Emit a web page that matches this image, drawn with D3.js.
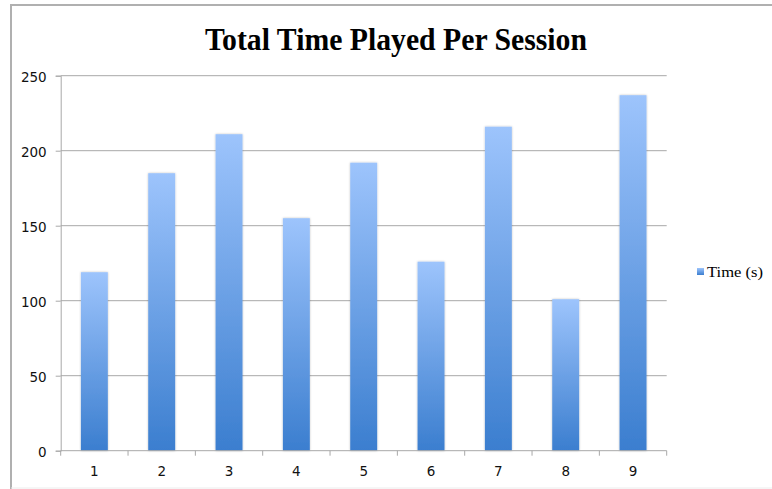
<!DOCTYPE html>
<html>
<head>
<meta charset="utf-8">
<script src="https://cdn.jsdelivr.net/npm/d3@7"></script>
<style>
  html, body { margin: 0; padding: 0; background: #fff; }
  svg { display: block; }
</style>
</head>
<body>
<div id="chart"></div>
<script>
// Session numbers and total seconds played in each
const sessions = ["1", "2", "3", "4", "5", "6", "7", "8", "9"];
const timeSeconds = [119, 185, 211, 155, 192, 126, 216, 101, 237];
const yTicks = [0, 50, 100, 150, 200, 250];
const seriesName = "Time (s)";
const chartTitle = "Total Time Played Per Session";

const W = 772, H = 489;
const margin = { left: 60.7, right: 772 - 666.7, top: 75.7, bottom: 489 - 450.7 };

const svg = d3.select("#chart").append("svg")
  .attr("width", W).attr("height", H);

const defs = svg.append("defs");
const grad = defs.append("linearGradient")
  .attr("id", "barFill")
  .attr("x1", 0).attr("y1", 0).attr("x2", 0).attr("y2", 1);
grad.append("stop").attr("offset", "0%").attr("stop-color", "#9dc4fc");
grad.append("stop").attr("offset", "100%").attr("stop-color", "#3b7ecf");

const shadow = defs.append("filter").attr("id", "barShadow")
  .attr("x", "-20%").attr("y", "-5%").attr("width", "140%").attr("height", "110%");
shadow.append("feGaussianBlur").attr("in", "SourceAlpha").attr("stdDeviation", 1).attr("result", "b");
shadow.append("feComponentTransfer").attr("in", "b").attr("result", "s")
  .append("feFuncA").attr("type", "linear").attr("slope", 0.25);
const merge = shadow.append("feMerge");
merge.append("feMergeNode").attr("in", "s");
merge.append("feMergeNode").attr("in", "SourceGraphic");

// Chart frame
svg.append("path")
  .attr("d", `M11,${H} L11,5 L${W},5`)
  .attr("fill", "none").attr("stroke", "#b0b0b0").attr("stroke-width", 2);
svg.append("line")
  .attr("x1", 11).attr("x2", W).attr("y1", 488).attr("y2", 488)
  .attr("stroke", "#ececec").attr("stroke-width", 1);

const x = d3.scaleBand()
  .domain(sessions)
  .range([margin.left, W - margin.right])
  .paddingInner(0.6)
  .paddingOuter(0.3);

const y = d3.scaleLinear()
  .domain([0, 250])
  .range([H - margin.bottom, margin.top]);

// Gridlines
svg.append("g")
  .selectAll("line")
  .data(yTicks.filter(d => d > 0))
  .join("line")
  .attr("x1", margin.left).attr("x2", W - margin.right)
  .attr("y1", d => y(d)).attr("y2", d => y(d))
  .attr("stroke", "#a8a8a8").attr("stroke-width", 1);

// Bars
svg.append("g")
  .selectAll("rect")
  .data(sessions.map((s, i) => ({ s, v: timeSeconds[i] })))
  .join("rect")
  .attr("x", d => x(d.s))
  .attr("y", d => y(d.v))
  .attr("width", x.bandwidth())
  .attr("height", d => y(0) - y(d.v))
  .attr("fill", "url(#barFill)")
  .attr("filter", "url(#barShadow)");

// Y axis
const yAxis = svg.append("g")
  .attr("transform", `translate(${margin.left},0)`)
  .call(d3.axisLeft(y).tickValues(yTicks).tickSize(5).tickPadding(9));
yAxis.select(".domain").attr("stroke", "#a8a8a8");
yAxis.selectAll(".tick line").attr("stroke", "#a8a8a8");
yAxis.selectAll("text")
  .attr("fill", "#111")
  .attr("dy", "0.45em")
  .style("font-family", "'DejaVu Sans', sans-serif")
  .style("font-size", "13.5px");

// X axis with ticks at band boundaries
const xAxisG = svg.append("g")
  .attr("transform", `translate(0,${y(0)})`);
xAxisG.append("line")
  .attr("x1", margin.left).attr("x2", W - margin.right)
  .attr("stroke", "#a8a8a8");
const bounds = d3.range(sessions.length + 1).map(i => x.range()[0] + i * (x.range()[1] - x.range()[0]) / sessions.length);
xAxisG.selectAll(".bt")
  .data(bounds)
  .join("line")
  .attr("class", "bt")
  .attr("x1", d => d).attr("x2", d => d)
  .attr("y1", 0).attr("y2", 5)
  .attr("stroke", "#a8a8a8");
xAxisG.selectAll("text")
  .data(sessions)
  .join("text")
  .attr("x", d => x(d) + x.bandwidth() / 2)
  .attr("y", 25)
  .attr("text-anchor", "middle")
  .attr("fill", "#111")
  .style("font-family", "'DejaVu Sans', sans-serif")
  .style("font-size", "13.5px")
  .text(d => d);

// Title
svg.append("text")
  .attr("x", 396)
  .attr("y", 50)
  .attr("text-anchor", "middle")
  .attr("textLength", 382)
  .attr("lengthAdjust", "spacingAndGlyphs")
  .style("font-family", "'Liberation Serif', 'DejaVu Serif', serif")
  .style("font-weight", "bold")
  .style("font-size", "31px")
  .attr("fill", "#000")
  .text(chartTitle);

// Legend
const lg = svg.append("g").attr("transform", "translate(697,268)");
lg.append("rect")
  .attr("width", 7).attr("height", 7)
  .attr("fill", "url(#barFill)");
lg.append("text")
  .attr("x", 10).attr("y", 9)
  .attr("textLength", 56)
  .attr("lengthAdjust", "spacingAndGlyphs")
  .style("font-family", "'Liberation Serif', 'DejaVu Serif', serif")
  .style("font-size", "15px")
  .attr("fill", "#000")
  .text(seriesName);
</script>
</body>
</html>
